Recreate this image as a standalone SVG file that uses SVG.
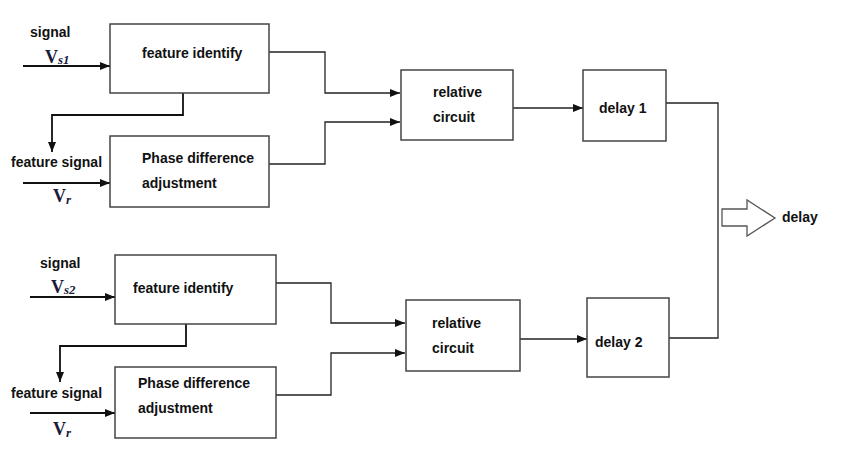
<svg xmlns="http://www.w3.org/2000/svg" width="855" height="470" viewBox="0 0 855 470">
<defs>
<marker id="ah" markerWidth="10" markerHeight="8" refX="10" refY="4" orient="auto" markerUnits="userSpaceOnUse">
<path d="M0,0 L10,4 L0,8 Z" fill="#111"/>
</marker>
<style>
.box{fill:#fff;stroke:#444;stroke-width:1.5}
.ln{fill:none;stroke:#222;stroke-width:1.3}
.ar{fill:none;stroke:#111;stroke-width:1.8}
.t{font-family:"Liberation Sans",Arial,sans-serif;font-weight:bold;font-size:14px;fill:#111}
.v{font-family:"Liberation Serif","Times New Roman",serif;font-weight:bold;font-size:18px;fill:#1a1a3a}
.sub{font-family:"Liberation Serif","Times New Roman",serif;font-style:italic;font-weight:bold;font-size:13px;fill:#1a1a3a}
</style>
</defs>
<rect width="855" height="470" fill="#fff"/>
<g id="connectors">
<path class="ar" d="M23,66 H110" marker-end="url(#ah)"/>
<path class="ar" d="M183,93 V115 H52 V152" marker-end="url(#ah)"/>
<path class="ar" d="M23,183 H110" marker-end="url(#ah)"/>
<path class="ln" d="M269,52 H325 V93 H400" marker-end="url(#ah)"/>
<path class="ln" d="M269,164 H325 V122 H400" marker-end="url(#ah)"/>
<path class="ln" d="M513,108 H583" marker-end="url(#ah)"/>
<path class="ar" d="M30,297 H115" marker-end="url(#ah)"/>
<path class="ar" d="M186,324 V346 H60 V382" marker-end="url(#ah)"/>
<path class="ar" d="M30,413 H115" marker-end="url(#ah)"/>
<path class="ln" d="M276,283 H331 V323 H405" marker-end="url(#ah)"/>
<path class="ln" d="M276,395 H331 V353 H405" marker-end="url(#ah)"/>
<path class="ln" d="M520,339 H587" marker-end="url(#ah)"/>
<path class="ln" d="M666,103 H718 V338 H669"/>
<path d="M722,209 H747 V200 L775,218 L747,236 V226 H722 Z" fill="#fff" stroke="#555" stroke-width="1.3"/>
</g>
<g id="labels">
<text class="t" x="30" y="37">signal</text>
<text x="45" y="63"><tspan class="v">V</tspan><tspan class="sub" dy="1">s1</tspan></text>
<text class="t" x="11" y="167">feature signal</text>
<text x="53" y="202"><tspan class="v">V</tspan><tspan class="sub" dy="2">r</tspan></text>
<text class="t" x="40" y="268">signal</text>
<text x="51" y="293"><tspan class="v">V</tspan><tspan class="sub" dy="1">s2</tspan></text>
<text class="t" x="11" y="398">feature signal</text>
<text x="53" y="435"><tspan class="v">V</tspan><tspan class="sub" dy="2">r</tspan></text>
<text class="t" x="782" y="222">delay</text>
</g>
<g id="fi1"><rect class="box" x="110" y="24" width="159" height="69"/><text class="t" x="142" y="58">feature identify</text></g>
<g id="pd1"><rect class="box" x="110" y="136" width="159" height="71"/><text class="t" x="142" y="163">Phase difference</text><text class="t" x="142" y="188">adjustment</text></g>
<g id="rc1"><rect class="box" x="401" y="70" width="112" height="70"/><text class="t" x="433" y="97">relative</text><text class="t" x="433" y="122">circuit</text></g>
<g id="d1"><rect class="box" x="583" y="70" width="83" height="71"/><text class="t" x="599" y="113">delay 1</text></g>
<g id="fi2"><rect class="box" x="115" y="255" width="161" height="69"/><text class="t" x="133" y="293">feature identify</text></g>
<g id="pd2"><rect class="box" x="115" y="367" width="161" height="71"/><text class="t" x="138" y="388">Phase difference</text><text class="t" x="138" y="413">adjustment</text></g>
<g id="rc2"><rect class="box" x="406" y="300" width="114" height="71"/><text class="t" x="432" y="328">relative</text><text class="t" x="432" y="353">circuit</text></g>
<g id="d2"><rect class="box" x="587" y="298" width="82" height="79"/><text class="t" x="595" y="347">delay 2</text></g>
</svg>
